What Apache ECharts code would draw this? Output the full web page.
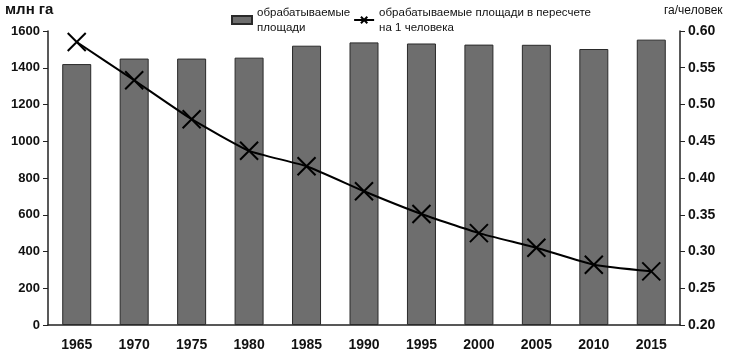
<!DOCTYPE html>
<html><head><meta charset="utf-8">
<script src="https://cdn.jsdelivr.net/npm/echarts@6/dist/echarts.min.js"></script>
<style>html,body{margin:0;padding:0;background:#fff}#c{width:730px;height:354px}</style>
</head><body><div id="c"></div>
<script>
const years = ['1965','1970','1975','1980','1985','1990','1995','2000','2005','2010','2015'];
const area = [1420,1450,1450,1455,1520,1538,1532,1526,1525,1502,1553];
const perCapita = [0.585,0.533,0.480,0.437,0.416,0.382,0.351,0.325,0.305,0.282,0.273];
const seriesNames = ['обрабатываемые\nплощади','обрабатываемые площади в пересчете\nна 1 человека'];
const leftTitle = 'млн га';
const rightTitle = 'га/человек';

const chart = echarts.init(document.getElementById('c'));
const font = 'Arial, "Liberation Sans", sans-serif';
const xPath = 'path://M0,0L10,10M10,0L0,10';
chart.setOption({
  animation:false,
  textStyle:{fontFamily:font},
  grid:{left:48,right:50,top:31,bottom:29},
  graphic:[
    {type:'text',left:5,top:2,style:{text:leftTitle,font:'bold 15px '+font,fill:'#111'}},
    {type:'text',left:664,top:5,style:{text:rightTitle,font:'12px '+font,fill:'#111'}}
  ],
  legend:{
    left:226,top:0,itemGap:3,itemWidth:20,itemHeight:8,
    textStyle:{fontSize:11.5,color:'#111',fontFamily:font,lineHeight:15},
    data:[
      {name:seriesNames[0],icon:'rect'},
      {name:seriesNames[1]}
    ]
  },
  xAxis:{
    type:'category',data:years,
    axisLine:{lineStyle:{color:'#222',width:1.5}},
    axisTick:{show:false},
    axisLabel:{color:'#111',fontWeight:'bold',fontSize:14,margin:13}
  },
  yAxis:[
    {type:'value',min:0,max:1600,interval:200,
     axisLine:{show:true,lineStyle:{color:'#222',width:1.5}},
     axisTick:{show:true,length:5,lineStyle:{color:'#222'}},
     splitLine:{show:false},
     axisLabel:{color:'#111',fontWeight:'bold',fontSize:13,margin:8,formatter:v=>String(v)}},
    {type:'value',min:0.2,max:0.6,interval:0.05,
     axisLine:{show:true,lineStyle:{color:'#222',width:1.5}},
     axisTick:{show:true,length:5,lineStyle:{color:'#222'}},
     splitLine:{show:false},
     axisLabel:{color:'#111',fontWeight:'bold',fontSize:14,margin:8,formatter:v=>v.toFixed(2)}}
  ],
  series:[
    {name:seriesNames[0],type:'bar',data:area,barWidth:29,
     itemStyle:{color:'#6e6e6e',borderColor:'#2a2a2a',borderWidth:1}},
    {name:seriesNames[1],type:'line',yAxisIndex:1,data:perCapita,smooth:0.15,
     symbol:xPath,symbolSize:18,
     lineStyle:{color:'#000',width:2},
     itemStyle:{color:'none',borderColor:'#000',borderWidth:2}}
  ]
});
</script></body></html>
